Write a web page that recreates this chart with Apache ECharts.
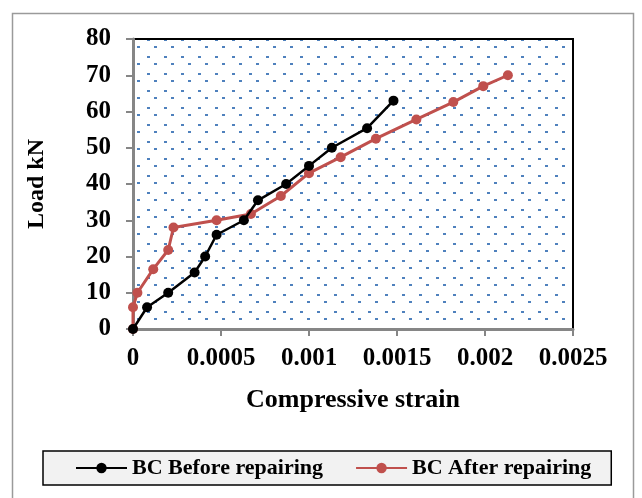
<!DOCTYPE html>
<html>
<head>
<meta charset="utf-8">
<script src="https://cdn.jsdelivr.net/npm/echarts@6/dist/echarts.min.js"></script>
<style>html,body{margin:0;padding:0;background:#fff}#c{width:642px;height:498px}</style>
</head>
<body>
<div id="c"></div>
<script>
// Data
var seriesNames = ['BC Before repairing', 'BC After repairing'];
var beforeStrain = [0, 0.00008, 0.0002, 0.00035, 0.00041, 0.000475, 0.00063, 0.00071, 0.00087, 0.001, 0.00113, 0.00133, 0.00148];
var beforeLoad   = [0, 6, 10, 15.6, 20, 26, 30, 35.5, 40, 45, 50, 55.4, 63];
var afterStrain  = [0, 0, 0.000025, 0.000115, 0.0002, 0.00023, 0.000475, 0.00067, 0.00084, 0.001, 0.00118, 0.00138, 0.00161, 0.00182, 0.00199, 0.00213];
var afterLoad    = [0, 6, 10, 16.5, 21.8, 28, 30, 31.7, 36.7, 43, 47.4, 52.5, 57.8, 62.6, 67, 70];
var xTicks = [0, 0.0005, 0.001, 0.0015, 0.002, 0.0025];
var yTicks = [0, 10, 20, 30, 40, 50, 60, 70, 80];

function pairs(xs, ys) { return xs.map(function (x, i) { return [x, ys[i]]; }); }

// dotted background pattern
var tile = document.createElement('canvas');
tile.width = 17; tile.height = 17;
var tc = tile.getContext('2d');
tc.fillStyle = '#4F81BD';
tc.fillRect(1, 12, 3, 2);
tc.fillRect(11, 5, 3, 2);

var FONT = 'Liberation Serif';
var chart = echarts.init(document.getElementById('c'), null, { renderer: 'canvas' });
chart.setOption({
  animation: false,
  backgroundColor: '#ffffff',
  graphic: [{
    type: 'rect', left: 10, top: 11, z: -10,
    shape: { width: 621, height: 500 },
    style: { fill: 'none', stroke: '#9a9a9a', lineWidth: 1.5 }
  }],
  grid: {
    left: 133, top: 39, right: 69, bottom: 169,
    show: true,
    backgroundColor: { image: tile, repeat: 'repeat' },
    borderColor: '#000', borderWidth: 2
  },
  legend: {
    data: seriesNames,
    bottom: 13, left: 43,
    width: 568,
    padding: [6, 20, 6, 32],
    itemWidth: 51, itemHeight: 13, itemGap: 32,
    backgroundColor: '#f2f2f2',
    borderColor: '#000', borderWidth: 1.5,
    textStyle: { fontFamily: FONT, fontWeight: 'bold', fontSize: 22, color: '#000' }
  },
  xAxis: {
    type: 'value', min: 0, max: 0.0025, interval: 0.0005,
    name: 'Compressive strain', nameLocation: 'middle', nameGap: 58,
    nameTextStyle: { fontFamily: FONT, fontWeight: 'bold', fontSize: 26, color: '#000' },
    axisLine: { show: true, onZero: false, lineStyle: { color: '#868686', width: 3 } },
    axisTick: { show: true, length: 7, lineStyle: { color: '#868686', width: 2 } },
    splitLine: { show: false },
    axisLabel: {
      margin: 17, fontFamily: FONT, fontWeight: 'bold', fontSize: 25, color: '#000',
      formatter: function (v) { var t = xTicks.find(function (k) { return Math.abs(k - v) < 1e-9; }); return String(t !== undefined ? t : v); }
    }
  },
  yAxis: {
    type: 'value', min: 0, max: 80, interval: 10,
    name: 'Load kN', nameLocation: 'middle', nameGap: 84,
    nameTextStyle: { fontFamily: FONT, fontWeight: 'bold', fontSize: 24, color: '#000' },
    axisLine: { show: true, lineStyle: { color: '#868686', width: 3 } },
    axisTick: { show: true, length: 7, lineStyle: { color: '#868686', width: 2 } },
    splitLine: { show: false },
    axisLabel: {
      margin: 22, fontFamily: FONT, fontWeight: 'bold', fontSize: 25, color: '#000',
      formatter: function (v) { return yTicks.indexOf(v) >= 0 ? String(v) : ''; }
    }
  },
  series: [{
    name: seriesNames[0], type: 'line', data: pairs(beforeStrain, beforeLoad),
    symbol: 'circle', symbolSize: 10, z: 3,
    lineStyle: { color: '#000', width: 2.5 },
    itemStyle: { color: '#000' }
  }, {
    name: seriesNames[1], type: 'line', data: pairs(afterStrain, afterLoad),
    symbol: 'circle', symbolSize: 10, z: 2,
    lineStyle: { color: '#C0504D', width: 3 },
    itemStyle: { color: '#C0504D' }
  }]
});
</script>
</body>
</html>
